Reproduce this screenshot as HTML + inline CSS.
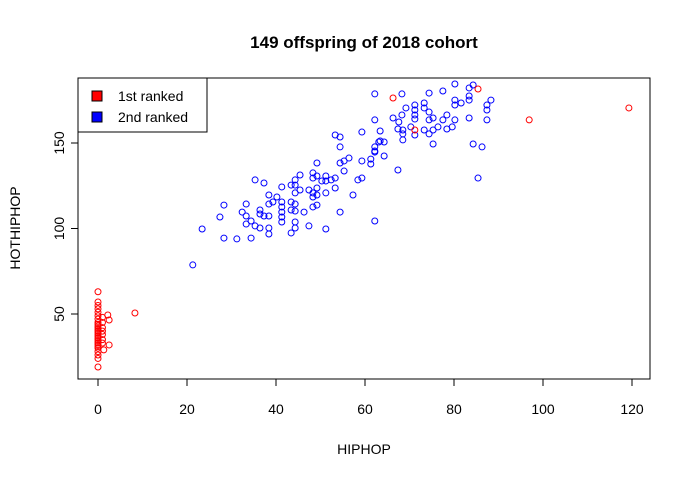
<!DOCTYPE html>
<html><head><meta charset="utf-8"><style>
body{margin:0;background:#fff}
text{font-family:"Liberation Sans",sans-serif;fill:#000}
</style></head><body>
<svg id="chart" width="691" height="477">
<text x="364" y="48" text-anchor="middle" font-size="17" font-weight="bold">149 offspring of 2018 cohort</text>
<rect x="78" y="78" width="572" height="301" fill="none" stroke="#000"/>
<g id="axes"></g>
<g id="points"></g>
<text x="364" y="454" text-anchor="middle" font-size="14">HIPHOP</text>
<text transform="translate(20,228) rotate(-90)" text-anchor="middle" font-size="14">HOTHIPHOP</text>
<g>
<rect x="78" y="78" width="129" height="54" fill="#fff" stroke="#000"/>
<rect x="92" y="91" width="10" height="10" fill="red" stroke="#000"/>
<text x="118" y="101" font-size="14">1st ranked</text>
<rect x="92" y="112" width="10" height="10" fill="blue" stroke="#000"/>
<text x="118" y="122" font-size="14">2nd ranked</text>
</g>
</svg>
<script>
const xTicks=[0,20,40,60,80,100,120];
const yTicks=[50,100,150];
const blueX=[21.3,23.4,28.3,27.4,28.3,31.2,32.4,33.3,33.3,33.3,34.4,34.4,35.3,35.3,36.4,36.4,36.4,37.3,37.3,38.4,38.4,38.4,38.4,38.4,39.3,40.2,41.3,41.3,41.3,41.3,41.3,41.3,43.4,43.4,43.4,43.4,44.3,44.3,44.3,44.3,44.3,44.3,44.3,45.4,45.4,46.3,47.4,47.4,48.3,48.3,48.3,48.3,48.3,49.2,49.2,49.2,49.2,49.2,50.3,51.2,51.2,51.2,51.2,52.4,53.3,53.3,54.4,54.4,54.4,55.3,55.3,56.4,57.3,58.4,59.3,59.3,61.3,61.3,62.2,62.2,62.2,63.1,80.2,84.3,83.4,62.2,68.3,74.4,77.5,80.2,80.2,81.6,83.4,83.4,88.3,87.4,87.4,69.2,71.2,71.2,73.3,73.3,74.4,68.3,71.2,71.2,66.3,67.6,62.2,74.4,75.3,77.5,78.4,80.2,83.4,87.4,70.3,67.4,68.5,68.5,68.5,71.2,73.3,74.4,75.3,76.4,78.4,79.6,63.4,59.3,53.3,54.4,63.4,64.3,62.2,64.3,67.4,75.3,84.3,86.3,85.4];
const blueY=[78.7,99.7,113.7,106.7,94.4,93.9,109.6,114.3,107.3,102.6,104.4,94.4,128.4,101.5,110.8,108.5,100.3,126.6,107.3,119.6,114.3,107.3,100.3,96.8,115.5,118.4,124.3,115.5,112.6,109.6,106.7,103.8,125.4,115.5,110.8,97.4,128.4,125.4,120.8,114.3,110.2,103.8,100.3,131.3,122.5,109.6,122.5,101.5,132.5,129.5,120.8,118.4,112.6,138.3,130.7,123.7,119.6,113.7,127.8,130.7,127.8,120.8,99.7,128.4,129.5,123.7,147.7,138.3,109.6,139.5,133.6,141.2,119.6,128.4,139.5,129.5,140.6,137.7,147.7,144.7,104.4,150.6,184.5,183.9,182.2,178.7,178.7,179.2,180.4,175.1,172.2,173.4,177.5,175.1,175.1,172.2,169.3,170.5,172.2,169.3,173.4,170.5,168.1,166.4,166.4,164.0,164.6,162.3,163.5,163.5,164.6,163.5,166.4,163.5,164.6,163.5,159.4,158.2,157.6,155.3,151.8,154.7,157.6,155.3,157.6,159.4,158.2,159.4,157.0,156.4,154.7,153.5,151.2,150.6,145.3,142.4,134.2,149.4,149.4,147.7,129.5];
const redX=[66.3,85.4,71.2,96.9,119.3,8.3,2.2,2.5,2.5,1.3,0,0,0,0,0,0,0,0,0,0,0,0,0,0,0,0,0,0,0,0,0,0,0,0,0,0,0,1,1,1,1,1,1,1];
const redY=[176.3,181.6,157.6,163.5,170.5,50.6,49.4,46.5,31.9,29,63,57,55,53,51,49,47,45,44,43,42,41,40,39,38,37,36,35,34,33,32,31,30,28,26,24,19,48,45,42,40,38,35,33];
const NS='http://www.w3.org/2000/svg';
const sx=v=>98+v*4.45, sy=v=>314-(v-50)*1.71;
const axes=document.getElementById('axes'), pts=document.getElementById('points');
function mk(tag,attrs,parent){const e=document.createElementNS(NS,tag);for(const k in attrs)e.setAttribute(k,attrs[k]);parent.appendChild(e);return e;}
xTicks.forEach(t=>{
  const l=mk('line',{x1:sx(t),x2:sx(t),y1:379,y2:386,stroke:'#000'},axes);
  
  
  const tx=mk('text',{x:sx(t),y:414,'text-anchor':'middle','font-size':14},axes);tx.textContent=t;
  
  
});
mk('line',{x1:sx(0),x2:sx(120),y1:379,y2:379,stroke:'#000'},axes);
yTicks.forEach(t=>{
  const l=mk('line',{x1:71,x2:78,y1:sy(t),y2:sy(t),stroke:'#000'},axes);
  
  
  const tx=mk('text',{transform:`translate(64,${sy(t)}) rotate(-90)`,'text-anchor':'middle','font-size':14},axes);tx.textContent=t;
  
  
});
function plot(xs,ys,col,name){xs.forEach((x,i)=>{
  const c=mk('circle',{cx:sx(x),cy:sy(ys[i]),r:3,fill:'none',stroke:col,'stroke-width':1},pts);
  
  
});}
plot(blueX,blueY,'blue','point-2nd-ranked');
plot(redX,redY,'red','point-1st-ranked');
</script>
</body></html>
